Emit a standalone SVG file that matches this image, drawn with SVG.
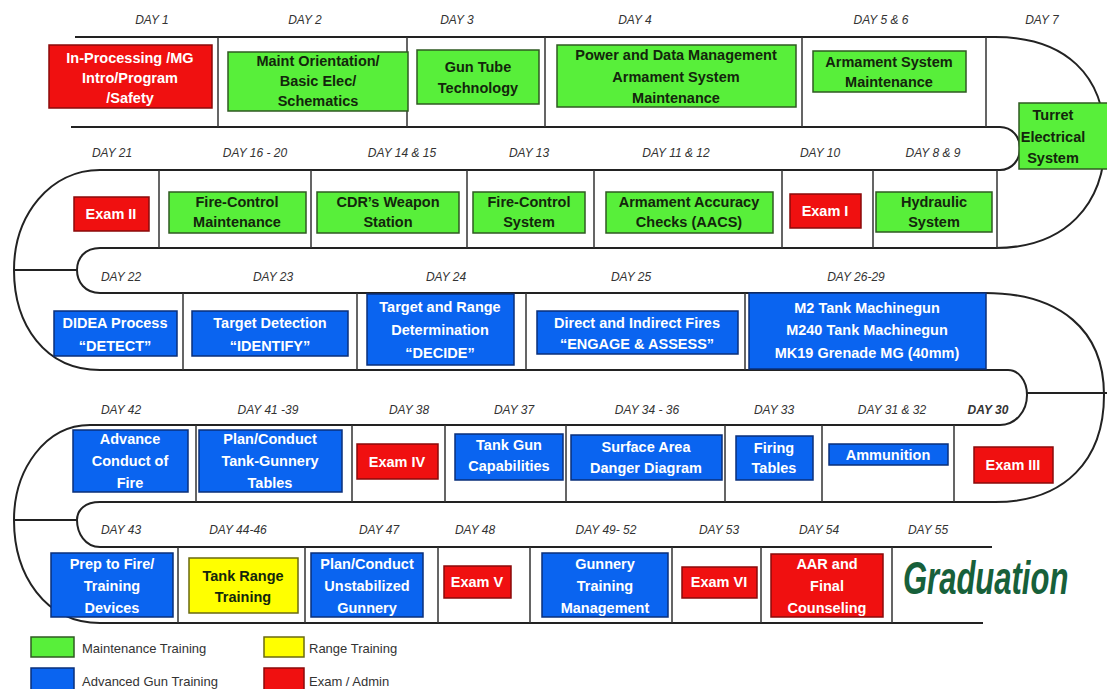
<svg xmlns="http://www.w3.org/2000/svg" width="1107" height="689" viewBox="0 0 1107 689">
<style>
.trk{fill:none;stroke:#222;stroke-width:2}
.dv{stroke:#333;stroke-width:1.5}
.day{font-family:"Liberation Sans",Arial,sans-serif;font-style:italic;font-size:12px;fill:#333;text-anchor:middle}
.g{fill:#58ef3a;stroke:#2f5a22;stroke-width:1.5}
.r{fill:#f01010;stroke:#8a0a0a;stroke-width:1.5}
.b{fill:#0a64f0;stroke:#0a2f7a;stroke-width:1.5}
.y{fill:#ffff00;stroke:#6a6a10;stroke-width:1.5}
.t{font-family:"Liberation Sans",Arial,sans-serif;font-weight:bold;font-size:14.5px;text-anchor:middle}
.tg{fill:#13260c}
.tw{fill:#ffffff}
.leg{font-family:"Liberation Sans",Arial,sans-serif;font-size:13px;fill:#333}
</style>
<rect width="1107" height="689" fill="#ffffff"/>
<g id="connectors">
<path class="trk" d="M75,37 H995 C1065,37 1105,75 1105,140 C1105,205 1065,248 995,248 H100 C85,248 77,258 77,270 C77,282 85,293 100,293 H985 C1060,293 1104,330 1104,395 C1104,460 1065,502 995,502 H100 C85,502 77,510 77,520 C77,533 85,547 100,547 H992"/>
<path class="trk" d="M71,127 H1000 C1012,127 1020,137 1020,148 C1020,160 1012,170 1000,170 H100 C50,170 14,215 14,270 C14,325 45,370 100,370 H1008 C1018,370 1027,380 1027,395 C1027,412 1015,425 1000,425 H90 C45,425 14,470 14,520 C14,575 45,623 100,623 H983"/>
<path class="trk" d="M14,270 H77 M14,520 H77 M1027,393 H1107"/>
<path class="dv" d="M218,37V127 M407,37V127 M545,37V127 M802,37V127 M986,37V127
M159,170V248 M311,170V248 M467,170V248 M594,170V248 M782,170V248 M873,170V248 M997,170V248
M183,293V370 M357,293V370 M526,293V370 M745,293V370
M196,425V502 M352,425V502 M445,425V502 M566,425V502 M725,425V502 M822,425V502 M954,425V502
M178,547V623 M305,547V623 M438,547V623 M530,547V623 M672,547V623 M761,547V623 M892,547V623"/>
</g>
<g id="day-labels">
<text class="day" x="152" y="24">DAY 1</text>
<text class="day" x="305" y="24">DAY 2</text>
<text class="day" x="457" y="24">DAY 3</text>
<text class="day" x="635" y="24">DAY 4</text>
<text class="day" x="881" y="24">DAY 5 &amp; 6</text>
<text class="day" x="1042" y="24">DAY 7</text>
<text class="day" x="112" y="157">DAY 21</text>
<text class="day" x="255" y="157">DAY 16 - 20</text>
<text class="day" x="402" y="157">DAY 14 &amp; 15</text>
<text class="day" x="529" y="157">DAY 13</text>
<text class="day" x="676" y="157">DAY 11 &amp; 12</text>
<text class="day" x="820" y="157">DAY 10</text>
<text class="day" x="933" y="157">DAY 8 &amp; 9</text>
<text class="day" x="121" y="281">DAY 22</text>
<text class="day" x="273" y="281">DAY 23</text>
<text class="day" x="446" y="281">DAY 24</text>
<text class="day" x="631" y="281">DAY 25</text>
<text class="day" x="856" y="281">DAY 26-29</text>
<text class="day" x="121" y="414">DAY 42</text>
<text class="day" x="268" y="414">DAY 41 -39</text>
<text class="day" x="409" y="414">DAY 38</text>
<text class="day" x="514" y="414">DAY 37</text>
<text class="day" x="647" y="414">DAY 34 - 36</text>
<text class="day" x="774" y="414">DAY 33</text>
<text class="day" x="892" y="414">DAY 31 &amp; 32</text>
<text class="day" x="988" y="414" font-weight="bold" fill="#111">DAY 30</text>
<text class="day" x="121" y="534">DAY 43</text>
<text class="day" x="238" y="534">DAY 44-46</text>
<text class="day" x="379" y="534">DAY 47</text>
<text class="day" x="475" y="534">DAY 48</text>
<text class="day" x="606" y="534">DAY 49- 52</text>
<text class="day" x="719" y="534">DAY 53</text>
<text class="day" x="819" y="534">DAY 54</text>
<text class="day" x="928" y="534">DAY 55</text>
</g>
<g id="n-day1"><rect class="r" x="49" y="45" width="163" height="63"/><text class="t tw" x="130"><tspan x="130" y="63">In-Processing /MG</tspan><tspan x="130" y="83">Intro/Program</tspan><tspan x="130" y="103">/Safety</tspan></text></g>
<g id="n-day2"><rect class="g" x="228" y="52" width="180" height="59"/><text class="t tg"><tspan x="318" y="66">Maint Orientation/</tspan><tspan x="318" y="86">Basic Elec/</tspan><tspan x="318" y="106">Schematics</tspan></text></g>
<g id="n-day3"><rect class="g" x="417" y="50" width="122" height="54"/><text class="t tg"><tspan x="478" y="72">Gun Tube</tspan><tspan x="478" y="93">Technology</tspan></text></g>
<g id="n-day4"><rect class="g" x="557" y="45" width="239" height="62"/><text class="t tg"><tspan x="676" y="60">Power and Data Management</tspan><tspan x="676" y="82">Armament System</tspan><tspan x="676" y="103">Maintenance</tspan></text></g>
<g id="n-day56"><rect class="g" x="813" y="51" width="153" height="41"/><text class="t tg"><tspan x="889" y="67">Armament System</tspan><tspan x="889" y="87">Maintenance</tspan></text></g>
<g id="n-day7"><rect class="g" x="1019" y="103" width="92" height="66"/><text class="t tg"><tspan x="1053" y="120">Turret</tspan><tspan x="1053" y="142">Electrical</tspan><tspan x="1053" y="163">System</tspan></text></g>
<g id="n-day89"><rect class="g" x="876" y="192" width="116" height="40"/><text class="t tg"><tspan x="934" y="207">Hydraulic</tspan><tspan x="934" y="227">System</tspan></text></g>
<g id="n-day10"><rect class="r" x="790" y="194" width="71" height="34"/><text class="t tw" x="825" y="216">Exam I</text></g>
<g id="n-day1112"><rect class="g" x="606" y="192" width="167" height="41"/><text class="t tg"><tspan x="689" y="207">Armament Accuracy</tspan><tspan x="689" y="227">Checks (AACS)</tspan></text></g>
<g id="n-day13"><rect class="g" x="473" y="192" width="112" height="41"/><text class="t tg"><tspan x="529" y="207">Fire-Control</tspan><tspan x="529" y="227">System</tspan></text></g>
<g id="n-day1415"><rect class="g" x="317" y="192" width="142" height="41"/><text class="t tg"><tspan x="388" y="207">CDR’s Weapon</tspan><tspan x="388" y="227">Station</tspan></text></g>
<g id="n-day1620"><rect class="g" x="169" y="192" width="137" height="41"/><text class="t tg"><tspan x="237" y="207">Fire-Control</tspan><tspan x="237" y="227">Maintenance</tspan></text></g>
<g id="n-day21"><rect class="r" x="74" y="197" width="75" height="34"/><text class="t tw" x="111" y="219">Exam II</text></g>
<g id="n-day22"><rect class="b" x="54" y="311" width="123" height="45"/><text class="t tw"><tspan x="115" y="328">DIDEA Process</tspan><tspan x="115" y="351">“DETECT”</tspan></text></g>
<g id="n-day23"><rect class="b" x="192" y="311" width="156" height="45"/><text class="t tw"><tspan x="270" y="328">Target Detection</tspan><tspan x="270" y="351">“IDENTIFY”</tspan></text></g>
<g id="n-day24"><rect class="b" x="367" y="294" width="147" height="71"/><text class="t tw"><tspan x="440" y="312">Target and Range</tspan><tspan x="440" y="335">Determination</tspan><tspan x="440" y="358">“DECIDE”</tspan></text></g>
<g id="n-day25"><rect class="b" x="537" y="311" width="201" height="43"/><text class="t tw"><tspan x="637" y="328">Direct and  Indirect Fires</tspan><tspan x="637" y="349">“ENGAGE &amp; ASSESS”</tspan></text></g>
<g id="n-day2629"><rect class="b" x="749" y="293" width="237" height="76"/><text class="t tw"><tspan x="867" y="313">M2 Tank Machinegun</tspan><tspan x="867" y="335">M240 Tank Machinegun</tspan><tspan x="867" y="358">MK19 Grenade MG (40mm)</tspan></text></g>
<g id="n-day30"><rect class="r" x="974" y="447" width="79" height="36"/><text class="t tw" x="1013" y="470">Exam III</text></g>
<g id="n-day3132"><rect class="b" x="829" y="444" width="119" height="21"/><text class="t tw" x="888" y="460">Ammunition</text></g>
<g id="n-day33"><rect class="b" x="736" y="436" width="77" height="44"/><text class="t tw"><tspan x="774" y="453">Firing</tspan><tspan x="774" y="473">Tables</tspan></text></g>
<g id="n-day3436"><rect class="b" x="571" y="435" width="151" height="45"/><text class="t tw"><tspan x="646" y="452">Surface Area</tspan><tspan x="646" y="473">Danger Diagram</tspan></text></g>
<g id="n-day37"><rect class="b" x="455" y="434" width="108" height="46"/><text class="t tw"><tspan x="509" y="450">Tank Gun</tspan><tspan x="509" y="471">Capabilities</tspan></text></g>
<g id="n-day38"><rect class="r" x="357" y="444" width="81" height="35"/><text class="t tw" x="397" y="467">Exam IV</text></g>
<g id="n-day4139"><rect class="b" x="199" y="430" width="143" height="62"/><text class="t tw"><tspan x="270" y="444">Plan/Conduct</tspan><tspan x="270" y="466">Tank-Gunnery</tspan><tspan x="270" y="488">Tables</tspan></text></g>
<g id="n-day42"><rect class="b" x="73" y="430" width="115" height="62"/><text class="t tw"><tspan x="130" y="444">Advance</tspan><tspan x="130" y="466">Conduct of</tspan><tspan x="130" y="488">Fire</tspan></text></g>
<g id="n-day43"><rect class="b" x="51" y="553" width="122" height="64"/><text class="t tw"><tspan x="112" y="569">Prep to Fire/</tspan><tspan x="112" y="591">Training</tspan><tspan x="112" y="613">Devices</tspan></text></g>
<g id="n-day4446"><rect class="y" x="189" y="558" width="109" height="55"/><text class="t tg"><tspan x="243" y="581">Tank Range</tspan><tspan x="243" y="602">Training</tspan></text></g>
<g id="n-day47"><rect class="b" x="311" y="553" width="112" height="64"/><text class="t tw"><tspan x="367" y="569">Plan/Conduct</tspan><tspan x="367" y="591">Unstabilized</tspan><tspan x="367" y="613">Gunnery</tspan></text></g>
<g id="n-day48"><rect class="r" x="444" y="566" width="67" height="32"/><text class="t tw" x="477" y="587">Exam V</text></g>
<g id="n-day4952"><rect class="b" x="542" y="553" width="126" height="64"/><text class="t tw"><tspan x="605" y="569">Gunnery</tspan><tspan x="605" y="591">Training</tspan><tspan x="605" y="613">Management</tspan></text></g>
<g id="n-day53"><rect class="r" x="682" y="567" width="75" height="31"/><text class="t tw" x="719" y="587">Exam VI</text></g>
<g id="n-day54"><rect class="r" x="771" y="554" width="112" height="63"/><text class="t tw"><tspan x="827" y="569">AAR and</tspan><tspan x="827" y="591">Final</tspan><tspan x="827" y="613">Counseling</tspan></text></g>
<g id="n-day55"><text transform="translate(903,594) scale(0.66,1)" x="0" y="0" font-family="'Liberation Sans',Arial,sans-serif" font-style="italic" font-weight="bold" font-size="47" fill="#17603a">Graduation</text></g>
<g id="legend">
<rect class="g" x="31" y="637" width="43" height="20"/><text class="leg" x="82" y="653">Maintenance Training</text>
<rect class="y" x="264" y="637" width="40" height="20"/><text class="leg" x="309" y="653">Range Training</text>
<rect class="b" x="31" y="668" width="43" height="22"/><text class="leg" x="82" y="686">Advanced Gun Training</text>
<rect class="r" x="264" y="668" width="40" height="22"/><text class="leg" x="309" y="686">Exam / Admin</text>
</g>
</svg>
